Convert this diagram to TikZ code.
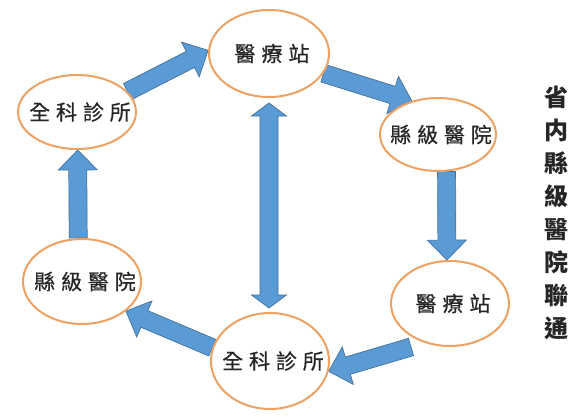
\documentclass[tikz,border=0pt]{standalone}
\usepackage{fontspec}
\usetikzlibrary{calc,shapes.geometric}
\newfontfamily\ovalfont[LetterSpace=28,FakeBold=0.6]{Noto Sans CJK TC}
\newfontfamily\sidefont{Noto Sans CJK TC}
\definecolor{ovalline}{RGB}{237,162,100}
\definecolor{arrowfill}{RGB}{91,155,213}
\definecolor{arrowline}{RGB}{65,113,156}
\pgfdeclarelayer{bg}
\pgfsetlayers{bg,main}
\tikzset{
	oval/.style={ellipse, draw=ovalline, line width=2pt, fill=white, inner sep=0pt},
	ovaltext/.style={font=\ovalfont\fontsize{21}{21}\selectfont, xshift=3pt, text=black!85},
	blockarr/.style={draw=arrowline, line width=0.7pt, fill=arrowfill, line join=miter},
	sidetext/.style={font=\sidefont\bfseries\fontsize{24}{33}\selectfont, align=center, inner sep=0pt, text=black!85}
}
\def\blockarrow(#1)(#2){
	\coordinate (bh) at ($(#2)!20pt!(#1)$);
	\draw[blockarr] ($(#1)!9pt!90:(#2)$) -- ($(bh)!9pt!-90:(#1)$) -- ($(bh)!19.5pt!-90:(#1)$) -- (#2)
		-- ($(bh)!19.5pt!90:(#1)$) -- ($(bh)!9pt!90:(#1)$) -- ($(#1)!9pt!-90:(#2)$) -- cycle;
}
\def\twowayarrow(#1)(#2){
	\coordinate (th1) at ($(#1)!13pt!(#2)$);
	\coordinate (th2) at ($(#2)!13pt!(#1)$);
	\draw[blockarr] (#1) -- ($(th1)!17.5pt!90:(#2)$) -- ($(th1)!9pt!90:(#2)$) -- ($(th2)!9pt!-90:(#1)$)
		-- ($(th2)!17.5pt!-90:(#1)$) -- (#2) -- ($(th2)!17.5pt!90:(#1)$) -- ($(th2)!9pt!90:(#1)$)
		-- ($(th1)!9pt!-90:(#2)$) -- ($(th1)!17.5pt!-90:(#2)$) -- cycle;
}

\begin{document}
\begin{tikzpicture}[x=1pt,y=-1pt]
	\useasboundingbox (0,0) rectangle (570,420);
	
	% the six stations of the ring
	\node[oval, minimum width=120pt, minimum height=87pt, label={[ovaltext]center:醫療站}] (yl1) at (269,53.5) {};
	\node[oval, minimum width=118pt, minimum height=74pt, label={[ovaltext]center:全科診所}] (gk1) at (77,112) {};
	\node[oval, minimum width=116pt, minimum height=73pt, label={[ovaltext]center:縣級醫院}] (xj1) at (438,134.5) {};
	\node[oval, minimum width=118pt, minimum height=85pt, label={[ovaltext]center:醫療站}] (yl2) at (450,303.5) {};
	\node[oval, minimum width=118pt, minimum height=96pt, label={[ovaltext]center:全科診所}] (gk2) at (270,361) {};
	\node[oval, minimum width=118pt, minimum height=85pt, label={[ovaltext]center:縣級醫院}] (xj2) at (82,281.5) {};
	
	\coordinate (d0) at ($(yl2)+(-39,43.5)$);
	\coordinate (g1) at ($(yl1.south)+(0,5)$);
	\coordinate (g2) at ($(gk2.north -| yl1.south)+(0,-4)$);
	
	\begin{pgfonlayer}{bg}
		\fill[white] (0,0) rectangle (570,420);
		\blockarrow(gk1.22)(yl1.177)
		\blockarrow(yl1.340)(xj1.128)
		\blockarrow(xj1.283)(yl2.94)
		\blockarrow(d0)(gk2.350)
		\blockarrow(gk2.167)(xj2.326)
		\blockarrow(xj2.95)(gk1.271)
		\twowayarrow(g1)(g2)
	\end{pgfonlayer}
	
	\node[sidetext] (side) at (556,213) {省\\内\\縣\\級\\醫\\院\\聯\\通};
\end{tikzpicture}
\end{document}
